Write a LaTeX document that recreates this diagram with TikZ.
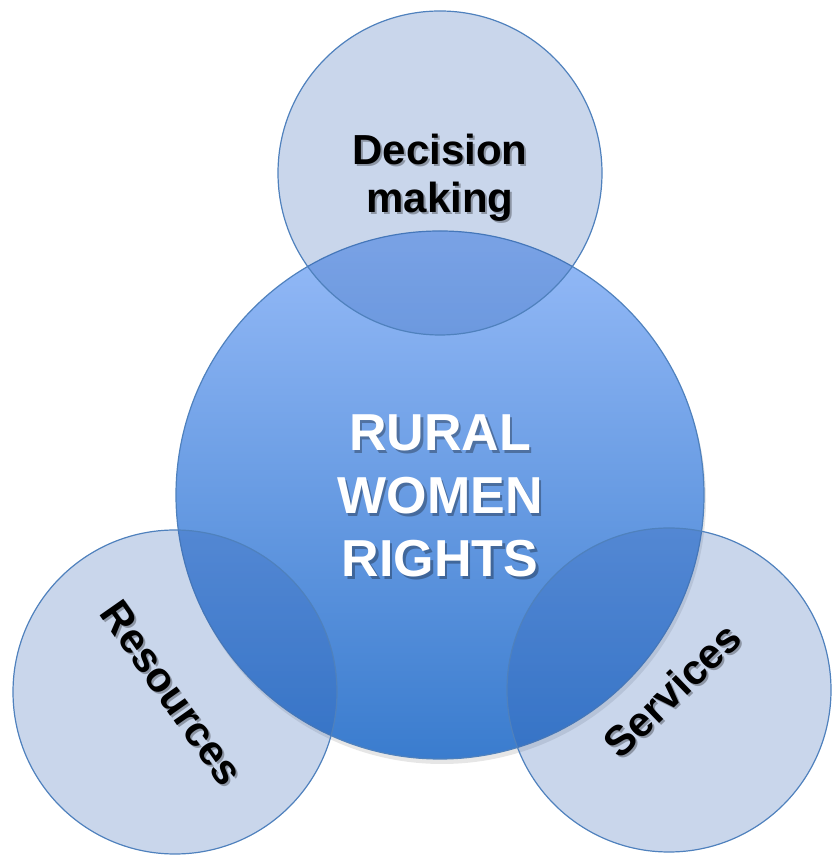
\documentclass[tikz,border=0pt]{standalone}
\usepackage{fontspec}
\setmainfont{Liberation Sans}
\usepackage{xcolor}
\usepackage{tikz}
\usetikzlibrary{shadows,calc}

\definecolor{rimblue}{RGB}{79,129,189}
\definecolor{hubtop}{RGB}{150,187,248}
\definecolor{hubbottom}{RGB}{58,124,206}
\definecolor{petalblue}{RGB}{40,90,175}

\begin{document}
\begin{tikzpicture}[x=1pt,y=1pt,
  hub/.style={circle,draw=rimblue,line width=1.2pt,minimum size=528pt,inner sep=0pt,
    top color=hubtop,bottom color=hubbottom,
    drop shadow={opacity=0.2,shadow xshift=2pt,shadow yshift=-5pt}},
  petal/.style={circle,draw=rimblue,line width=1.2pt,minimum size=324pt,inner sep=0pt,
    fill=petalblue,fill opacity=0.25,draw opacity=1},
  hubtext/.style={font=\bfseries\fontsize{52}{63}\selectfont,align=center,text=white},
  petaltext/.style={font=\bfseries\fontsize{42}{48}\selectfont,align=center,text=black},
  shade/.style={text=black,text opacity=0.3}]
\path[use as bounding box] (0,0) rectangle (831,856);
% central circle
\node[hub] (rights) at (440,361) {};
% overlapping circles
\node[petal] (decision) at (440,683) {};
\node[petal] (resources) at (175,164) {};
\node[petal] (services) at (669,166) {};
% text shadows
\node[hubtext,shade] at ($(rights)+(2.5,-3.5)$) {RURAL\\WOMEN\\RIGHTS};
\node[petaltext,shade] at ($(decision)+(2,-7)$) {Decision\\making};
\node[petaltext,shade,rotate=-55] at ($(resources)+(-1,-3)$) {Resources};
\node[petaltext,shade,rotate=44] at ($(services)+(5,-2)$) {Services};
% labels
\node[hubtext] (ruraltxt) at ($(rights)+(0,-1)$) {RURAL\\WOMEN\\RIGHTS};
\node[petaltext] (decisiontxt) at ($(decision)+(0,-5)$) {Decision\\making};
\node[petaltext,rotate=-55] (resourcestxt) at ($(resources)+(-3,-1)$) {Resources};
\node[petaltext,rotate=44] (servicestxt) at ($(services)+(3,0)$) {Services};
\end{tikzpicture}
\end{document}
